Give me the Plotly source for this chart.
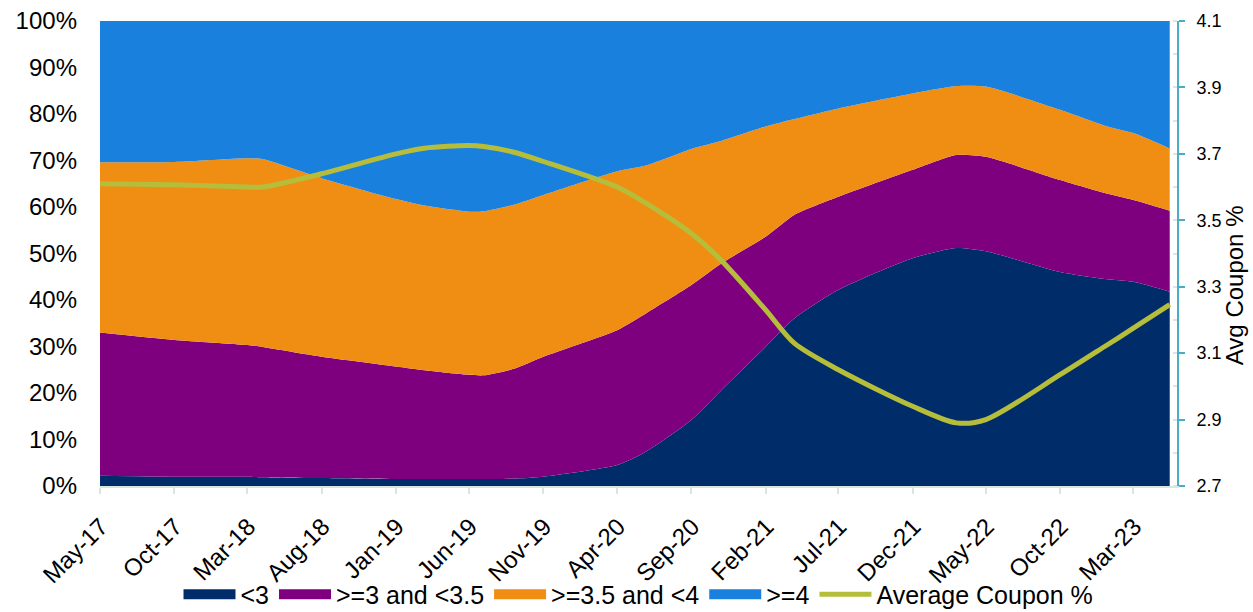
import plotly.graph_objects as go

dates = ["2017-05-01", "2017-10-01", "2018-03-01", "2018-04-01", "2018-08-01",
         "2019-01-01", "2019-03-01", "2019-06-01", "2019-07-01", "2019-09-01",
         "2019-11-01", "2020-04-01", "2020-06-01", "2020-09-01", "2020-11-01",
         "2021-02-01", "2021-04-01", "2021-07-01", "2021-12-01", "2022-03-01",
         "2022-05-01", "2022-10-01", "2023-01-01", "2023-03-01", "2023-05-15"]

lt3 = [2.2, 2.0, 2.0, 1.9, 1.7, 1.5, 1.5, 1.5, 1.5, 1.6, 2.0, 4.5, 7.5, 14.2, 20.5,
       29.9, 36.0, 42.2, 49.0, 51.2, 50.5, 46.0, 44.5, 43.9, 41.8]
ge3_lt35 = [30.8, 29.4, 28.3, 28.0, 26.1, 24.2, 23.4, 22.4, 22.3, 23.6, 25.8, 29.0, 29.7,
            29.0, 27.3, 23.7, 22.3, 20.0, 19.0, 20.0, 20.3, 19.8, 18.5, 17.6, 17.4]
ge35_lt4 = [36.6, 38.3, 40.2, 40.4, 38.4, 36.0, 35.4, 35.1, 35.3, 35.3, 34.8, 34.2, 31.8,
            29.3, 26.4, 23.7, 20.6, 19.0, 16.4, 14.8, 15.1, 15.1, 14.5, 14.4, 13.4]
ge4 = [30.4, 30.3, 29.5, 29.7, 33.8, 38.3, 39.7, 41.0, 40.9, 39.5, 37.4, 32.3, 31.0,
       27.5, 25.8, 22.7, 21.1, 18.8, 15.6, 14.0, 14.1, 19.1, 22.5, 24.1, 27.4]
avg_coupon = [3.61, 3.607, 3.60, 3.60, 3.64, 3.70, 3.717, 3.725, 3.722, 3.705, 3.677, 3.60,
              3.55, 3.46, 3.38, 3.23, 3.13, 3.05, 2.94, 2.89, 2.90, 3.035, 3.12, 3.175, 3.246]

series = [
    ("<3", lt3, "#002D6A"),
    (">=3 and <3.5", ge3_lt35, "#7F007F"),
    (">=3.5 and <4", ge35_lt4, "#EF8E12"),
    (">=4", ge4, "#1A80DD"),
]
LINE_COLOR = "#B5BD3A"
FONT = "Liberation Sans, Arial, sans-serif"

fig = go.Figure()
# stacked areas (legend drawn by dedicated legend entries below)
for name, vals, col in series:
    fig.add_trace(go.Scatter(
        x=dates, y=vals, name=name, mode="lines", stackgroup="one",
        line=dict(width=0, shape="spline", smoothing=0.6, color=col),
        fillcolor=col, hoverinfo="x+y", showlegend=False, legendgroup=name,
    ))

fig.add_trace(go.Scatter(
    x=dates, y=avg_coupon, name="Average Coupon %", mode="lines", yaxis="y2",
    line=dict(color=LINE_COLOR, width=5, shape="spline", smoothing=0.8),
    showlegend=False, legendgroup="avg",
))

# legend entries (box-like swatches)
for name, vals, col in series:
    fig.add_trace(go.Scatter(
        x=[None], y=[None], name=name, mode="lines",
        line=dict(width=12, color=col), legendgroup=name, showlegend=True,
    ))
fig.add_trace(go.Scatter(
    x=[None], y=[None], name="Average Coupon %", mode="lines", yaxis="y2",
    line=dict(width=5, color=LINE_COLOR), legendgroup="avg", showlegend=True,
))

fig.update_layout(
    width=1253, height=612,
    margin=dict(l=100, r=76, t=21, b=126, autoexpand=False),
    paper_bgcolor="white", plot_bgcolor="white",
    font=dict(family=FONT, color="#000000"),
    showlegend=True,
    legend=dict(orientation="h", x=0.5, xanchor="center", xref="paper",
                yref="container", y=0.066, yanchor="top",
                font=dict(size=25, family=FONT), traceorder="normal",
                itemwidth=52, bgcolor="rgba(0,0,0,0)"),
    xaxis=dict(
        type="date", range=["2017-05-01", "2023-05-30"], automargin=False,
        tick0="2017-05-01", dtick="M5", tickformat="%b-%y", tickangle=-45,
        tickfont=dict(size=24, family=FONT), showgrid=False,
        ticks="outside", ticklen=6, tickcolor="#D6E8DC", tickwidth=2,
        ticklabelstandoff=9, ticklabelshift=1,
        showline=True, linecolor="#D6E8DC", linewidth=2, zeroline=False,
    ),
    yaxis=dict(
        range=[0, 100], dtick=10, ticksuffix="%", showgrid=False, zeroline=False,
        automargin=False, ticklabelstandoff=22,
        tickfont=dict(size=24, family=FONT), ticks="", showline=False,
    ),
    yaxis2=dict(
        overlaying="y", side="right", range=[2.7, 4.1], dtick=0.2, tick0=2.7,
        tickformat=".1f", showgrid=False, zeroline=False, automargin=False,
        tickfont=dict(size=18, family=FONT), ticklabelstandoff=8,
        ticks="outside", ticklen=6, tickcolor="#4BACC6", tickwidth=2,
        showline=True, linecolor="#4BACC6", linewidth=2,
        minor=dict(dtick=0.1, ticks="inside", ticklen=4, tickcolor="#D6E8E6", tickwidth=2),
    ),
    annotations=[dict(
        text="Avg Coupon %", textangle=-90, xref="paper", yref="paper",
        x=1.053, y=0.432, xanchor="center", yanchor="middle", showarrow=False,
        font=dict(size=24, family=FONT, color="#000000"),
    )],
)

fig.write_html("out.html")
